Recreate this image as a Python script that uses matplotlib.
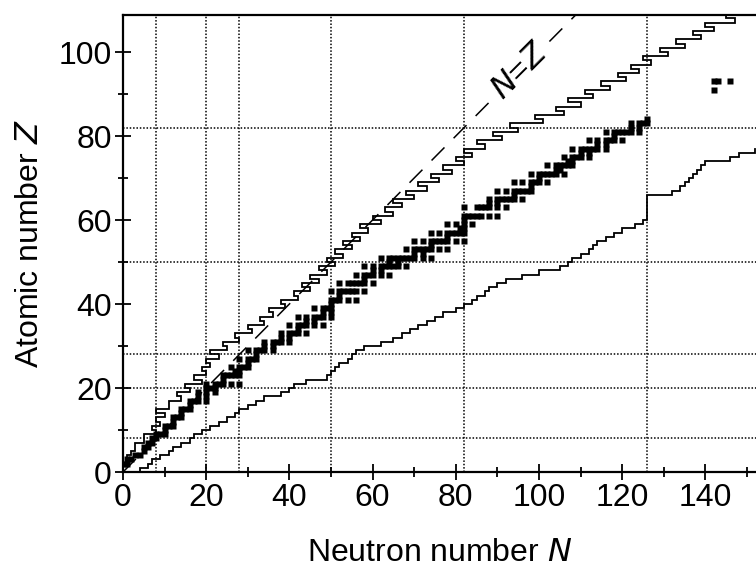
import numpy as np
import matplotlib
matplotlib.use("Agg")
import matplotlib.pyplot as plt

plt.rcParams['font.family'] = ['Liberation Sans', 'DejaVu Sans']

# ---------------- data ----------------
# stable (and long-lived) nuclides: Z -> list of neutron numbers N
stable_Z = [1, 2, 3, 4, 5, 6, 7, 8, 9, 10, 11, 12, 13, 14, 15, 16, 17, 18, 19, 20,
            21, 22, 23, 24, 25, 26, 27, 28, 29, 30, 31, 32, 33, 34, 35, 36, 37, 38, 39, 40,
            41, 42, 44, 45, 46, 47, 48, 49, 50, 51, 52, 53, 54, 55, 56, 57, 58, 59, 60,
            62, 63, 64, 65, 66, 67, 68, 69, 70, 71, 72, 73, 74, 75, 76, 77, 78, 79, 80,
            81, 82, 83, 90, 92]
stable_N = [[0, 1], [1, 2], [3, 4], [5], [5, 6], [6, 7], [7, 8], [8, 9, 10], [10], [10, 11, 12],
            [12], [12, 13, 14], [14], [14, 15, 16], [16], [16, 17, 18, 20], [18, 20], [18, 20, 22],
            [20, 21, 22], [20, 22, 23, 24, 26, 28],
            [24], [24, 25, 26, 27, 28], [27, 28], [26, 28, 29, 30], [30], [28, 30, 31, 32], [32],
            [30, 32, 33, 34, 36], [34, 36], [34, 36, 37, 38, 40], [38, 40], [38, 40, 41, 42, 44],
            [42], [40, 42, 43, 44, 46, 48], [44, 46], [42, 44, 46, 47, 48, 50], [48, 50],
            [46, 48, 49, 50], [50], [50, 51, 52, 54, 56],
            [52], [50, 52, 53, 54, 55, 56, 58], [52, 54, 55, 56, 57, 58, 60], [58],
            [56, 58, 59, 60, 62, 64], [60, 62], [58, 60, 62, 63, 64, 65, 66, 68], [64, 66],
            [62, 64, 65, 66, 67, 68, 69, 70, 72, 74], [70, 72], [68, 70, 71, 72, 73, 74, 76, 78],
            [74], [70, 72, 74, 75, 76, 77, 78, 80, 82], [78], [74, 76, 78, 79, 80, 81, 82],
            [81, 82], [78, 80, 82, 84], [82], [82, 83, 84, 85, 86, 88, 90],
            [82, 85, 86, 87, 88, 90, 92], [88, 90], [88, 90, 91, 92, 93, 94, 96], [94],
            [90, 92, 94, 95, 96, 97, 98], [98], [94, 96, 98, 99, 100, 102], [100],
            [98, 100, 101, 102, 103, 104, 106], [104, 105], [102, 104, 105, 106, 107, 108],
            [107, 108], [106, 108, 109, 110, 112], [110, 112], [108, 110, 111, 112, 113, 114, 116],
            [114, 116], [112, 114, 116, 117, 118, 120], [118], [116, 118, 119, 120, 121, 122, 124],
            [122, 124], [122, 124, 125, 126], [126], [142], [142, 143, 146]]

# proton-rich limit: smallest N for each Z
upper_Z = list(range(1, 109))
upper_N = [0, 1, 1, 2, 3, 3, 5, 5, 8, 7, 9, 8, 10, 8, 11, 11, 14, 13, 16, 15,
           19, 17, 20, 19, 21, 20, 23, 21, 25, 24, 28, 27, 31, 30, 34, 33, 36, 35, 39, 38,
           42, 41, 45, 43, 47, 45, 49, 47, 51, 49, 53, 51, 55, 53, 57, 55, 59, 57, 62, 60,
           65, 63, 67, 65, 70, 68, 73, 71, 76, 74, 79, 77, 82, 80, 84, 82, 87, 85, 91, 89,
           95, 93, 101, 99, 106, 104, 110, 107, 113, 111, 117, 115, 121, 119, 124, 122, 127, 125, 131, 129,
           135, 133, 139, 137, 142, 140, 147, 145]

# neutron-rich limit: largest N for each Z
lower_Z = list(range(0, 77))
lower_N = [4, 6, 7, 9, 11, 12, 14, 16, 17, 19, 21, 23, 25, 27, 28, 30, 32, 34, 38, 40,
           41, 44, 49, 50, 51, 52, 54, 55, 56, 58, 62, 65, 67, 69, 71, 73, 75, 77, 80, 82,
           84, 85, 87, 88, 90, 92, 96, 100, 105, 107, 108, 110, 112, 113, 114, 116, 118, 120, 123, 125,
           126, 126, 126, 126, 126, 126, 132, 134, 135, 136, 137, 138, 139, 140, 146, 148, 152]

magic_N = [8, 20, 28, 50, 82, 126]
magic_Z = [8, 20, 28, 50, 82]

x_ticks = [0, 20, 40, 60, 80, 100, 120, 140]
y_ticks = [0, 20, 40, 60, 80, 100]

# ---------------- figure ----------------
W, H = 756, 571
fig = plt.figure(figsize=(W / 100, H / 100), dpi=100)
ax = fig.add_axes([123 / W, (H - 472) / H, (W - 123) / W, (472 - 15) / H])
ax.set_xlim(0, (W - 123) / 4.16)
ax.set_ylim(0, (472 - 15) / 4.2)

for n in magic_N:
    ax.axvline(n, color='black', ls=(0, (1, 1.2)), lw=1.1, zorder=1)
for z in magic_Z:
    ax.axhline(z, color='black', ls=(0, (1, 1.2)), lw=1.1, zorder=1)

# stable nuclides
sx, sy = [], []
for z, ns in zip(stable_Z, stable_N):
    for n in ns:
        sx.append(n)
        sy.append(z + 1)
ax.plot(sx, sy, ls='none', marker='s', ms=3.7, mec='none', mfc='black', zorder=3)

# boundaries
def stair(zs, ns):
    xs, ys = [], []
    for z, n in zip(zs, ns):
        xs += [n, n]
        ys += [z, z + 1]
    return xs, ys

ux, uy = stair(upper_Z, upper_N)
ax.plot(ux, uy, color='black', lw=1.3, zorder=2, solid_joinstyle='miter')
lx, ly = stair(lower_Z, lower_N)
ax.plot(lx, ly, color='black', lw=1.3, zorder=2, solid_joinstyle='miter')

# N = Z line (interrupted by its label)
ax.plot([0, 88.5], [0, 88.5], color='black', lw=1.1, ls=(0, (12, 8.5)), zorder=2)
ax.plot([102.5, 109], [102.5, 109], color='black', lw=1.1, ls=(0, (12, 8.5)), zorder=2)
ax.text(95.5, 95.5, r'$\mathit{N}$=$\mathit{Z}$', rotation=45, ha='center', va='center',
        fontsize=23, rotation_mode='anchor')

ax.spines['right'].set_visible(False)
for s in ['left', 'bottom', 'top']:
    ax.spines[s].set_linewidth(1.6)

ax.set_xticks(x_ticks)
ax.set_yticks(y_ticks)
ax.set_xticks(np.arange(10, 152, 20), minor=True)
ax.set_yticks(np.arange(10, 109, 20), minor=True)
ax.tick_params(which='major', direction='inout', length=12, width=1.3, labelsize=23, pad=2)
ax.tick_params(which='minor', direction='inout', length=7, width=1.3)

ax.set_xlabel('Neutron number $\\mathit{N}$', fontsize=23, labelpad=18)
ax.set_ylabel('Atomic number $\\mathit{Z}$', fontsize=23, labelpad=10)

fig.savefig('out.png', dpi=100)
